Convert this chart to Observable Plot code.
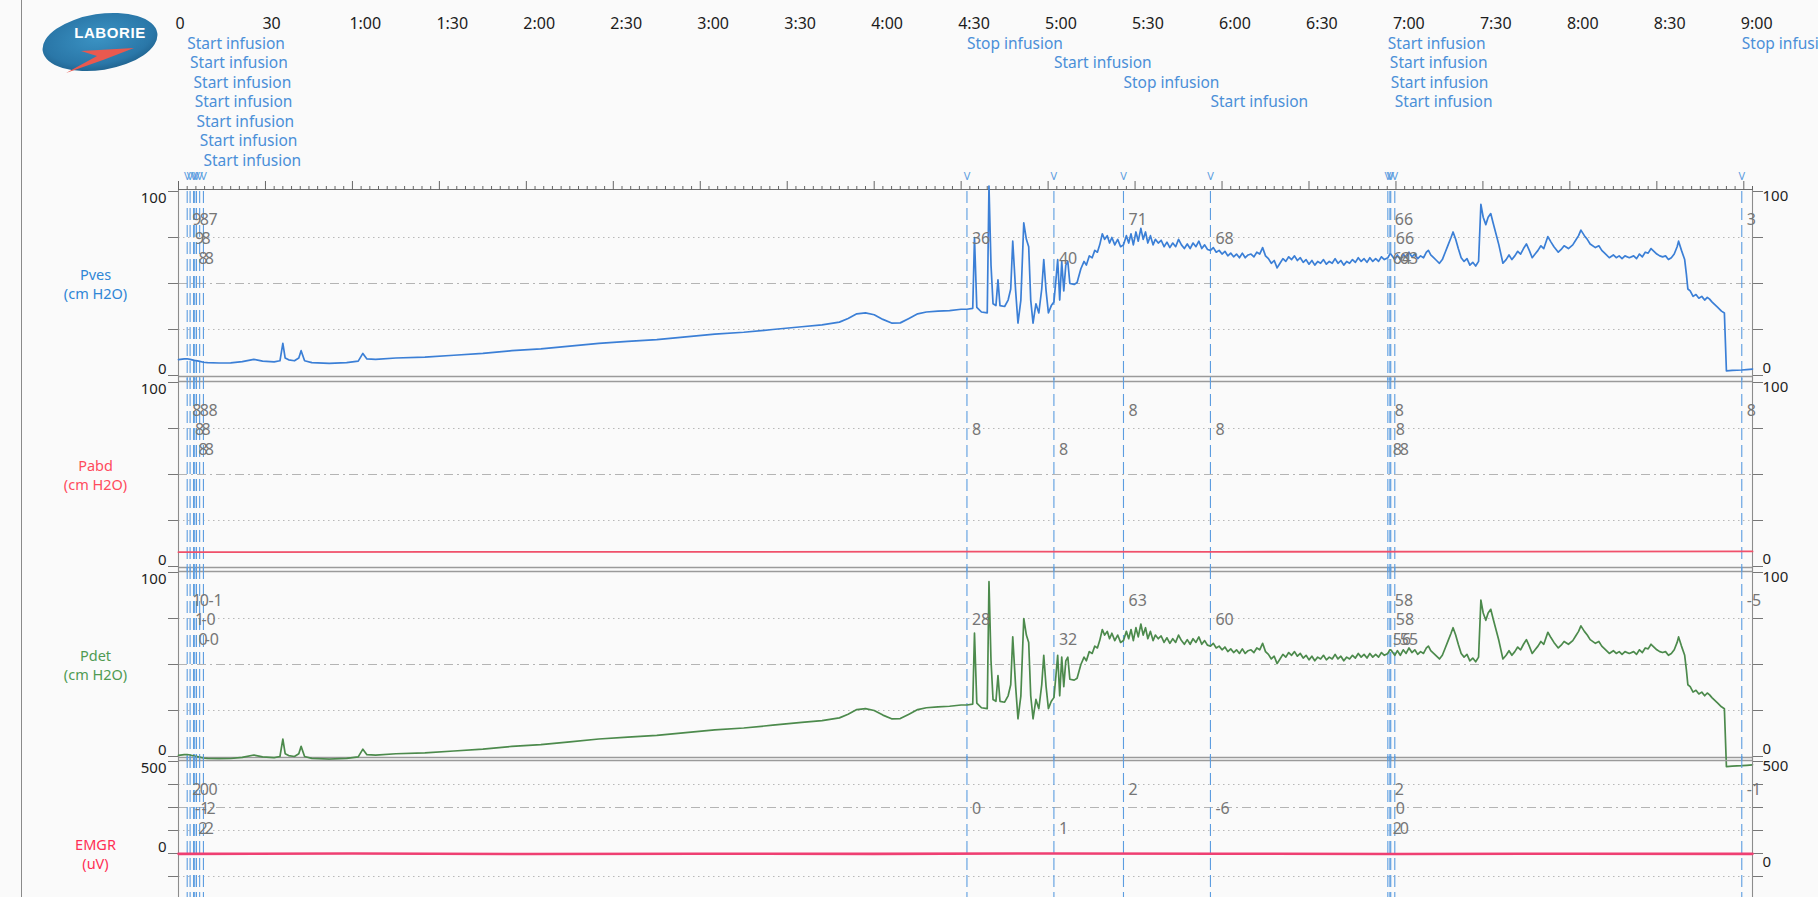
<!DOCTYPE html>
<html>
<head>
<meta charset="utf-8">
<script src="https://cdn.jsdelivr.net/npm/d3@7"></script>
<script src="https://cdn.jsdelivr.net/npm/@observablehq/plot@0.6"></script>
<style>
  html, body { margin: 0; padding: 0; background: #fafafa; overflow: hidden; }
  #page { position: relative; width: 1818px; height: 897px; overflow: hidden; background: #fafafa; font-family: "Noto Sans", sans-serif; }
  #page .panel { position: absolute; left: 0; }
  #edge { position: absolute; left: 21px; top: 0; width: 1px; height: 897px; background: #8a8a8a; }
  #logo { position: absolute; left: 38px; top: 8px; }
</style>
</head>
<body>
<div id="page">
  <div id="edge"></div>
  <svg id="logo" width="128" height="70" viewBox="38 8 128 70">
    <defs>
      <radialGradient id="logoFill" cx="50%" cy="42%" r="62%">
        <stop offset="0" stop-color="#3b93c4"/>
        <stop offset="0.75" stop-color="#2a77a8"/>
        <stop offset="1" stop-color="#1e5f8a"/>
      </radialGradient>
    </defs>
    <ellipse cx="100" cy="42" rx="58" ry="28" transform="rotate(-9 100 42)" fill="url(#logoFill)"/>
    <text x="110" y="38" text-anchor="middle" font-family="Liberation Sans, Arial, sans-serif" font-weight="bold" font-size="15" fill="#ffffff" letter-spacing="0.6">LABORIE</text>
    <path d="M66 73 L97 56 L81 51 L134 48 L103 60 Z" fill="#e9594f"/>
  </svg>
</div>
<script>
// ---- time axis (seconds) ----
const timeTicks  = [0, 30, 60, 90, 120, 150, 180, 210, 240, 270, 300, 330, 360, 390, 420, 450, 480, 510, 540];
const timeLabels = ["0", "30", "1:00", "1:30", "2:00", "2:30", "3:00", "3:30", "4:00", "4:30",
                    "5:00", "5:30", "6:00", "6:30", "7:00", "7:30", "8:00", "8:30", "9:00"];
const timeDomain = [0, 543];

// ---- infusion events ----
const eventTimes = [3.0, 4.0, 5.2, 5.6, 6.2, 7.3, 8.6, 272, 302, 326, 356, 417.2, 417.9, 418.2, 419.6, 539.3];
const eventNames = ["Start infusion", "Start infusion", "Start infusion", "Start infusion", "Start infusion",
                    "Start infusion", "Start infusion", "Stop infusion", "Start infusion", "Stop infusion",
                    "Start infusion", "Start infusion", "Start infusion", "Start infusion", "Start infusion",
                    "Stop infusion"];

// ---- channel readings printed at each event ----
const pvesAtEvents = ["9", "9", "8", "8", "8", "8", "7", "36", "40", "71", "68", "64", "66", "66", "63", "3"];
const pabdAtEvents = ["8", "8", "8", "8", "8", "8", "8", "8", "8", "8", "8", "8", "8", "8", "8", "8"];
const pdetAtEvents = ["1", "1", "0", "0", "-0", "-0", "-1", "28", "32", "63", "60", "56", "58", "58", "55", "-5"];
const emgrAtEvents = ["2", "-1", "2", "0", "-2", "2", "0", "0", "1", "2", "-6", "2", "2", "0", "0", "-1"];

// ---- channels ----
const channelNames  = ["Pves", "Pabd", "Pdet", "EMGR"];
const channelUnits  = ["cm H2O", "cm H2O", "cm H2O", "uV"];
const channelDomain = [[0, 100], [0, 100], [0, 100], [-500, 500]];
const channelTicks  = [[0, 25, 50, 75, 100], [0, 25, 50, 75, 100], [0, 25, 50, 75, 100],
                       [-500, -375, -250, -125, 0, 125, 250, 375, 500]];
const channelEndLabels = [[100, 0], [100, 0], [100, 0], [500, 0]];

// ---- pressure traces (seconds, cm H2O) ----
const traceSeconds = [
  0, 2, 3, 4, 5.5, 7, 8.6, 10, 14, 18, 22, 26, 29, 33, 35, 36, 36.8, 38, 40, 41.5, 42.3, 43.5, 46, 52, 58, 62, 63.6, 65, 68, 75,
  85, 95, 105, 115, 125, 135, 145, 155, 165, 175, 185, 195, 205, 215, 222, 228, 231, 234, 237, 240, 243, 246, 249, 252, 255, 258, 262, 266, 270, 272,
  274, 274.6, 275.4, 277, 279, 279.6, 280.3, 281, 282, 282.7, 283.4, 285, 286.2, 287.1, 287.8, 288.8, 289.6, 290.6, 291.6, 292.5,
  293.3, 294, 294.8, 295.8, 296.8, 297.8, 298.5, 299.3, 300.1, 301.1, 302, 302.7, 303.3, 304, 304.7, 305.4, 306.1, 306.8, 307.5, 309,
  310, 311.3, 312.4, 313.2, 314.2, 315.2, 316.1, 317, 317.8, 318.7, 319.5, 320.4, 321.2, 322, 323, 324, 325, 326, 327, 327.8,
  328.6, 329.4, 330.3, 331.1, 332, 332.8, 333.6, 334.4, 335.3, 336.2, 337, 338, 339, 340, 341, 342, 343, 344, 345, 346,
  347, 348, 349, 350, 351, 352, 353, 354, 355, 356, 357, 358, 359, 360, 361, 362, 363, 364, 365, 366,
  367, 368, 369, 370, 371, 372, 373, 374, 375, 376, 377, 378, 379, 380, 381, 382, 383, 384, 385, 386,
  387, 388, 389, 390, 391, 392, 393, 394, 395, 396, 397, 398, 399, 400, 401, 402, 403, 404, 405, 406,
  407, 408, 409, 410, 411, 412, 413, 414, 415, 416, 417.2, 417.9, 418.2, 419.6, 420.5, 421.5, 422.5, 423.5, 424.5, 425.5,
  426.5, 427.5, 428.5, 429.5, 430.5, 431.2, 432, 433, 434, 435, 436, 437, 438, 439, 439.7, 440.6, 441.5, 442.5, 443.5, 444.5,
  445.5, 446.5, 447.5, 448.5, 449.3, 450.1, 451, 451.8, 452.7, 453.5, 454.5, 455.5, 456.9, 458, 459, 460, 461, 462, 463, 464,
  465, 466, 467, 468, 469, 470, 471, 472.4, 473.5, 474.5, 476, 477, 478, 479.5, 481, 482, 483, 483.8, 485, 486,
  487, 488.8, 490, 491, 492, 493.6, 495, 496, 497, 498, 499, 500.5, 502, 503, 504, 505, 506, 507, 508, 509,
  510, 511, 512, 513, 514, 515, 516, 517, 517.5, 518.5, 519.6, 520.2, 520.7, 521.5, 522.5, 523.5, 524.5, 525.5, 526.5, 527.4,
  528.2, 529, 530, 531, 532.3, 533.3, 534, 536, 539.3, 541, 543
];
const pvesTrace = [
  8.6, 9, 9.1, 8.8, 8.2, 7.8, 7.2, 7, 6.8, 6.9, 7.5, 8.8, 7.8, 7.4, 8, 17.5, 9.5, 8.5, 8, 9.5, 13.5, 8, 7, 6.6, 7, 7.8, 12, 9, 8.8, 9.5,
  10, 11, 12, 13.5, 14.5, 16, 17.5, 18.5, 19.5, 21, 22.5, 23.5, 25, 26.5, 27.5, 29, 31, 33.5, 34, 33, 30.5, 28.5, 28.6, 31, 33.5, 34.5, 35, 35.3, 36, 36,
  36.5, 75, 37, 34.5, 34, 103, 60, 39, 38, 52, 38, 37.5, 41, 47, 73, 46, 28.5, 41, 83, 74,
  70, 41, 28.5, 39, 34, 47, 63, 46, 34, 38, 40, 52, 63, 41, 62, 46, 60, 62, 50, 49.5,
  50.5, 58, 62, 60, 65, 64, 68, 67, 71, 77, 74, 76, 72, 75, 71, 74, 70, 71, 76, 72,
  77, 71, 78, 73, 80, 74, 78, 72, 76, 71, 74, 72, 73.5, 70, 72.5, 69.5, 72, 70, 74, 71,
  69, 71.5, 69, 72, 70, 73, 69, 71, 68.5, 68, 69.5, 67, 68, 66, 67.5, 65, 66.5, 64.5, 66, 64,
  66.5, 64, 65.5, 66, 64.5, 67, 66, 69.5, 65, 63.5, 61, 62.5, 58.5, 61, 63.5, 62, 64.5, 63, 65, 62.5,
  64, 61.5, 63, 60.5, 62.5, 60, 62, 61, 63, 60.5, 62, 61, 63.5, 61, 62.5, 60, 62, 61, 63, 61.5,
  64, 62, 63.5, 61.5, 64, 62, 63.5, 62, 64.5, 63, 64, 66, 66, 63, 65.5, 63, 66, 64, 67, 64.5,
  66, 63.5, 65, 64, 67, 68, 65.5, 64, 62.5, 61, 63, 67, 71, 75, 78, 74, 69, 64, 62, 63.5,
  60, 61.5, 59.5, 62, 93, 86, 82, 86, 88, 83, 77, 71, 61, 63, 65.5, 63, 65, 67.5, 66, 69,
  71.5, 68, 64, 66, 68, 70.5, 69, 75.5, 72.5, 70, 67, 68.5, 70.5, 69, 71, 73.5, 76, 79, 76, 74,
  71.5, 69.5, 70.5, 68, 66.5, 64, 65.5, 64, 65, 63.5, 65, 64, 65, 63.5, 66, 64.5, 67, 66.5, 69, 67.5,
  66, 65, 64.5, 65, 63, 64, 66, 70, 73, 68, 63, 55, 47, 46, 43, 44, 42, 43, 41, 42.5,
  41.5, 40, 38.5, 37, 35, 34, 2.5, 2.8, 3, 3.2, 3.5
];
const pdetTrace = [
  0.6, 1, 1.1, 0.8, 0.2, -0.2, -0.8, -1, -1.2, -1.1, -0.5, 0.8, -0.2, -0.6, 0, 9.5, 1.5, 0.5, 0, 1.5, 5.5, 0, -1, -1.4, -1, -0.2, 4, 1, 0.8, 1.5,
  2, 3, 4, 5.5, 6.5, 8, 9.5, 10.5, 11.5, 13, 14.5, 15.5, 17, 18.5, 19.5, 21, 23, 25.5, 26, 25, 22.5, 20.5, 20.6, 23, 25.5, 26.5, 27, 27.3, 28, 28,
  28.5, 67, 29, 26.5, 26, 95, 52, 31, 30, 44, 30, 29.5, 33, 39, 65, 38, 20.5, 33, 75, 66,
  62, 33, 20.5, 31, 26, 39, 55, 38, 26, 30, 32, 44, 55, 33, 54, 38, 52, 54, 42, 41.5,
  42.5, 50, 54, 52, 57, 56, 60, 59, 63, 69, 66, 68, 64, 67, 63, 66, 62, 63, 68, 64,
  69, 63, 70, 65, 72, 66, 70, 64, 68, 63, 66, 64, 65.5, 62, 64.5, 61.5, 64, 62, 66, 63,
  61, 63.5, 61, 64, 62, 65, 61, 63, 60.5, 60, 61.5, 59, 60, 58, 59.5, 57, 58.5, 56.5, 58, 56,
  58.5, 56, 57.5, 58, 56.5, 59, 58, 61.5, 57, 55.5, 53, 54.5, 50.5, 53, 55.5, 54, 56.5, 55, 57, 54.5,
  56, 53.5, 55, 52.5, 54.5, 52, 54, 53, 55, 52.5, 54, 53, 55.5, 53, 54.5, 52, 54, 53, 55, 53.5,
  56, 54, 55.5, 53.5, 56, 54, 55.5, 54, 56.5, 55, 56, 58, 58, 55, 57.5, 55, 58, 56, 59, 56.5,
  58, 55.5, 57, 56, 59, 60, 57.5, 56, 54.5, 53, 55, 59, 63, 67, 70, 66, 61, 56, 54, 55.5,
  52, 53.5, 51.5, 54, 85, 78, 74, 78, 80, 75, 69, 63, 53, 55, 57.5, 55, 57, 59.5, 58, 61,
  63.5, 60, 56, 58, 60, 62.5, 61, 67.5, 64.5, 62, 59, 60.5, 62.5, 61, 63, 65.5, 68, 71, 68, 66,
  63.5, 61.5, 62.5, 60, 58.5, 56, 57.5, 56, 57, 55.5, 57, 56, 57, 55.5, 58, 56.5, 59, 58.5, 61, 59.5,
  58, 57, 56.5, 57, 55, 56, 58, 62, 65, 60, 55, 47, 39, 38, 35, 36, 34, 35, 33, 34.5,
  33.5, 32, 30.5, 29, 27, 26, -5.5, -5.2, -5, -4.8, -4.5
];

// ---- abdominal pressure and EMG ----
const pabdSeconds = [0, 90, 180, 270, 360, 450, 543];
const pabdTrace   = [7.8, 8, 7.9, 8.1, 8, 8.1, 8.2];
const emgrSeconds = [0, 60, 120, 180, 240, 300, 360, 420, 480, 543];
const emgrTrace   = [-2, 0, -3, -1, -2, 0, -1, -3, -1, -2];

// ---- styling ----
const EVENT_BLUE = "#5c9de0";
const traceColors = ["#3b7fd6", "#f0506a", "#4c8a4c", "#ef3f72"];
const traceWidths = [1.7, 1.8, 1.7, 2.6];
const nameColors  = ["#2f86d6", "#ff4b5c", "#4f9a52", "#ff2f55"];
const panelTops   = [191, 382, 572, 761];
const PANEL_H = 184, WIDTH = 1818, M_LEFT = 178, M_RIGHT = 66;

const series = [
  d3.zip(traceSeconds, pvesTrace),
  d3.zip(pabdSeconds, pabdTrace),
  d3.zip(traceSeconds, pdetTrace),
  d3.zip(emgrSeconds, emgrTrace)
];
const atEvents = [pvesAtEvents, pabdAtEvents, pdetAtEvents, emgrAtEvents];

// cascading rows for the event annotations at the top
const headerRows = [];
eventTimes.forEach((t, i) => headerRows.push(i > 0 && t - eventTimes[i - 1] < 40 ? headerRows[i - 1] + 1 : 0));

const page = document.getElementById("page");

channelNames.forEach((name, c) => {
  const first = c === 0;
  const mTop = first ? panelTops[0] : 6;
  const mBottom = 6;
  const domain = channelDomain[c];
  const [lo, hi] = domain;
  const mid = (lo + hi) / 2;
  const ticks = channelTicks[c];
  const dashDot = c < 3 ? [mid] : [250, -250];
  const gridDotted = c < 3 ? [25, 75] : [375, 125, -125, -375];

  const marks = [];

  // grid
  marks.push(Plot.ruleY(gridDotted, {stroke: "#b8b8b8", strokeDasharray: "1.5,3.5"}));
  marks.push(Plot.ruleY(dashDot, {stroke: "#b4b4b4", strokeDasharray: "9,4,2,4"}));

  // panel borders
  marks.push(Plot.ruleY([lo], {stroke: "#9a9a9a", strokeWidth: 1.3, dy: 1}));
  if (first) marks.push(Plot.ruleY([hi], {stroke: "#6e6e6e", strokeWidth: 1.2, dy: -2}));
  else marks.push(Plot.ruleY([hi], {stroke: "#9a9a9a", strokeWidth: 1.3, dy: -1}));
  marks.push(Plot.ruleX(timeDomain, {stroke: "#8c8c8c", strokeWidth: 1.1, insetTop: first ? -2 : -5, insetBottom: -5}));

  // event markers
  marks.push(Plot.ruleX(eventTimes, {stroke: EVENT_BLUE, strokeWidth: 1.1, strokeDasharray: "12,5", insetTop: first ? 0 : -5, insetBottom: -5}));

  // y ticks on both sides
  marks.push(Plot.axisY({anchor: "left", ticks, tickSize: 10, tickFormat: () => "", label: null, stroke: "#777"}));
  marks.push(Plot.axisY({anchor: "right", ticks, tickSize: 10, tickFormat: () => "", label: null, stroke: "#777"}));

  // end values of each scale
  const [topVal, zeroVal] = channelEndLabels[c];
  const endText = {fontSize: 15, fill: "#1e1e1e"};
  marks.push(Plot.text([topVal], {x: timeDomain[0], y: d => d, text: d => String(d), dx: -12, dy: 7, textAnchor: "end", ...endText}));
  marks.push(Plot.text([zeroVal], {x: timeDomain[0], y: d => d, text: d => String(d), dx: -12, dy: -6, textAnchor: "end", ...endText}));
  marks.push(Plot.text([topVal], {x: timeDomain[1], y: d => d, text: d => String(d), dx: 10, dy: 5, textAnchor: "start", ...endText}));
  marks.push(Plot.text([zeroVal], {x: timeDomain[1], y: d => d, text: d => String(d), dx: 10, dy: c < 3 ? -7 : 9, textAnchor: "start", ...endText}));

  // channel name
  marks.push(Plot.text([`${name}\n(${channelUnits[c]})`], {
    text: d => d, frameAnchor: "left", dx: -83, textAnchor: "middle",
    fill: nameColors[c], fontSize: 14.5, lineHeight: 1.33
  }));

  // trace
  marks.push(Plot.line(series[c], {x: d => d[0], y: d => d[1], stroke: traceColors[c], strokeWidth: traceWidths[c], strokeLinejoin: "round"}));

  // readings at each event, three stacked rows
  for (let r = 0; r < 3; r++) {
    const idx = d3.range(eventTimes.length).filter(i => i % 3 === r);
    marks.push(Plot.text(idx, {
      x: i => eventTimes[i], text: i => atEvents[c][i],
      frameAnchor: "top", dy: 22 + r * 19.5, dx: 5, textAnchor: "start",
      fill: "#767676", fontSize: 16
    }));
  }

  if (first) {
    // time ruler
    marks.push(Plot.axisX({anchor: "top", ticks: d3.range(0, 544, 3).filter(t => t % 30 !== 0), tickSize: 4, tickFormat: () => "", label: null, stroke: "#666", dy: -2}));
    marks.push(Plot.axisX({anchor: "top", ticks: timeTicks, tickSize: 9, tickFormat: () => "", label: null, stroke: "#666", dy: -2}));
    marks.push(Plot.text(timeTicks, {
      x: d => d, text: (d, i) => timeLabels[i], frameAnchor: "top", dy: -174, dx: -3,
      textAnchor: "start", fill: "#1c1c1c", fontSize: 16
    }));
    // event names
    const maxRow = d3.max(headerRows);
    for (let r = 0; r <= maxRow; r++) {
      const idx = d3.range(eventTimes.length).filter(i => headerRows[i] === r);
      marks.push(Plot.text(idx, {
        x: i => eventTimes[i], text: i => eventNames[i], frameAnchor: "top",
        dy: -154 + r * 19.5, textAnchor: "start", fill: "#4b8fd8", fontSize: 15.5
      }));
    }
    // event flags above the ruler
    marks.push(Plot.text(eventTimes, {x: d => d, text: () => "V", frameAnchor: "top", dy: -19, fill: EVENT_BLUE, fontSize: 11}));
  }

  const chart = Plot.plot({
    width: WIDTH,
    height: mTop + PANEL_H + mBottom,
    marginLeft: M_LEFT,
    marginRight: M_RIGHT,
    marginTop: mTop,
    marginBottom: mBottom,
    style: {background: "transparent", fontFamily: "Noto Sans, sans-serif", overflow: "visible"},
    x: {domain: timeDomain, axis: first ? undefined : null},
    y: {domain, axis: null},
    marks
  });
  chart.classList.add("panel");
  chart.style.top = (panelTops[c] - mTop) + "px";
  page.appendChild(chart);
});
</script>
</body>
</html>
